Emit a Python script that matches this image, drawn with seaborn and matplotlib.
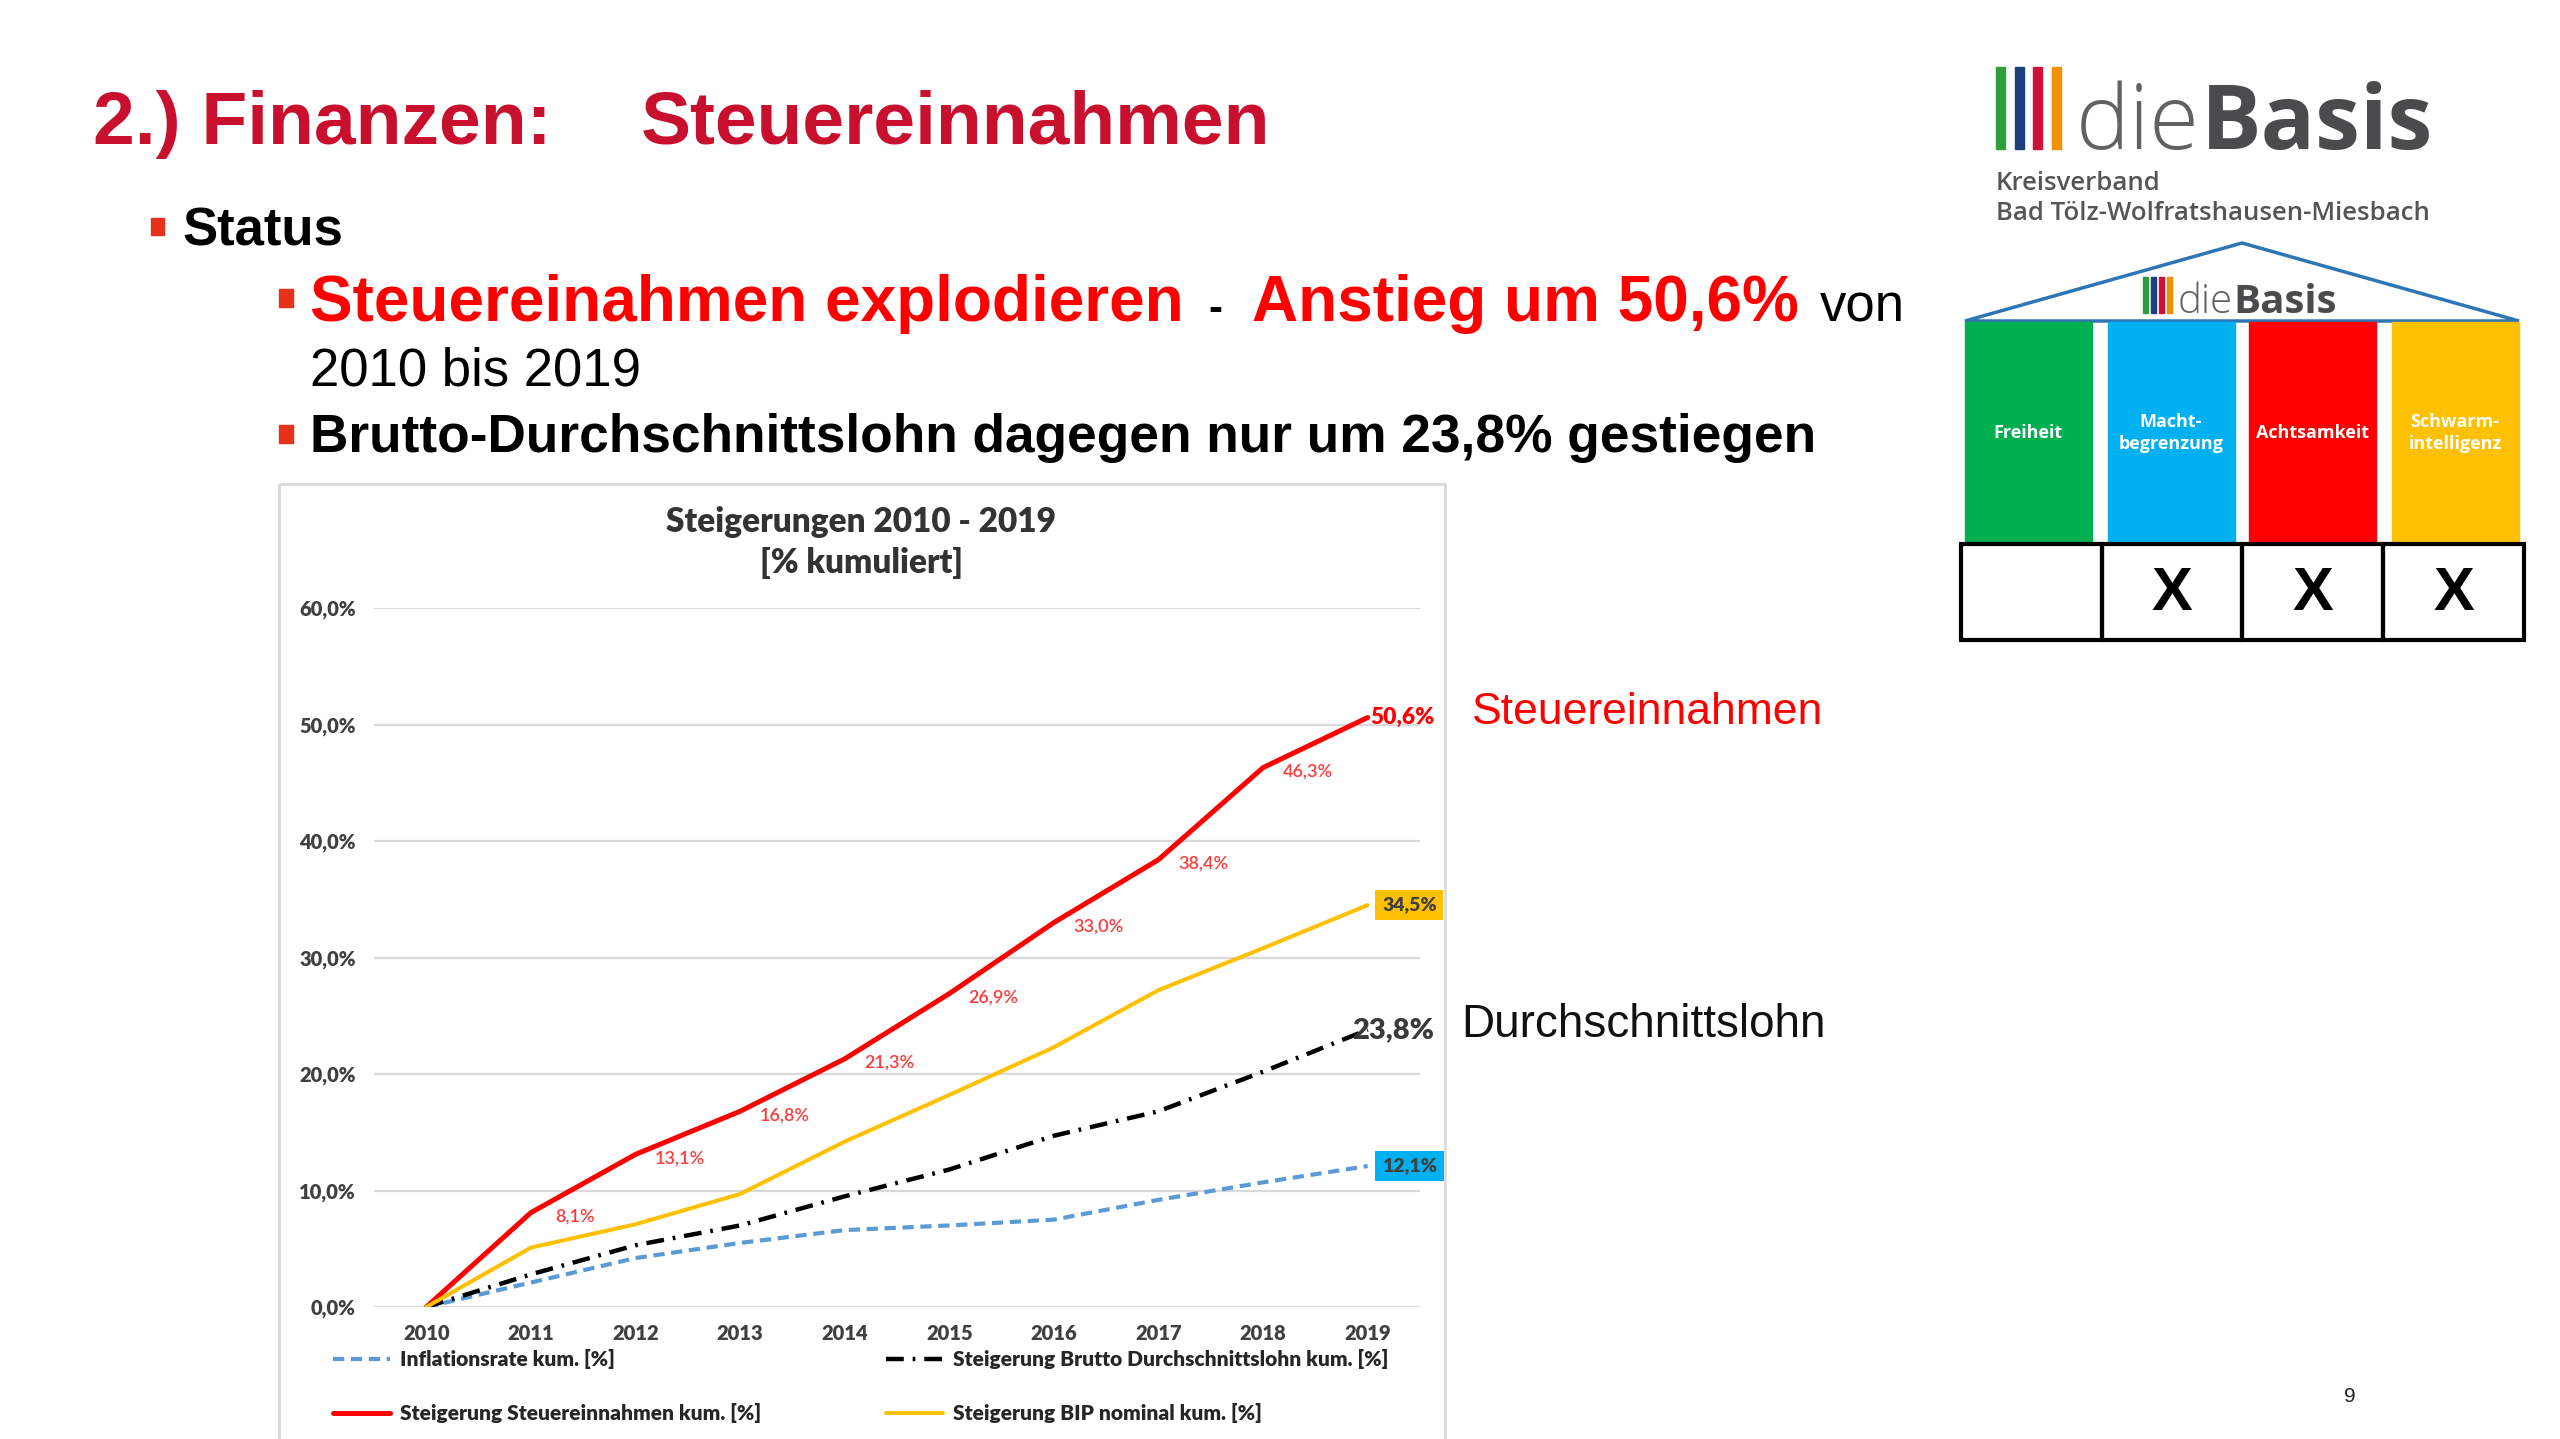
import numpy as np
import pandas as pd
import seaborn as sns
import matplotlib.pyplot as plt
from matplotlib.patches import Rectangle, Polygon

# Daten (kumulierte Steigerung in %)
years = [2010, 2011, 2012, 2013, 2014, 2015, 2016, 2017, 2018, 2019]
inflation = [0.0, 2.1, 4.2, 5.5, 6.6, 7.0, 7.5, 9.2, 10.7, 12.1]
steuer = [0.0, 8.1, 13.1, 16.8, 21.3, 26.9, 33.0, 38.4, 46.3, 50.6]
lohn = [0.0, 2.8, 5.3, 7.0, 9.5, 11.8, 14.7, 16.8, 20.2, 23.8]
bip = [0.0, 5.1, 7.1, 9.7, 14.2, 18.2, 22.3, 27.2, 30.8, 34.5]
legend_labels = ["Inflationsrate kum. [%]",
                 "Steigerung Steuereinnahmen kum. [%]",
                 "Steigerung Brutto Durchschnittslohn kum. [%]",
                 "Steigerung BIP nominal kum. [%]"]
y_ticks = [0, 10, 20, 30, 40, 50, 60]

pillars = ["Freiheit", "Macht-\nbegrenzung", "Achtsamkeit", "Schwarm-\nintelligenz"]
pillar_colors = ["#00B050", "#00B0F0", "#FF0000", "#FFC000"]
pillar_marks = ["", "X", "X", "X"]
logo_bars = ["#2E9E3C", "#1F3F7A", "#D0103A", "#F39200"]

def pct(v):
    return f"{v:.1f}%".replace(".", ",")

sns.set_theme(style="white")
plt.rcParams["font.family"] = ["Liberation Sans", "DejaVu Sans"]

W, H = 2560, 1439
fig = plt.figure(figsize=(W / 100, H / 100), dpi=100)
renderer = fig.canvas.get_renderer()

# Overlay in Pixelkoordinaten fuer die Folie
ov = fig.add_axes([0, 0, 1, 1])
ov.set_xlim(0, W)
ov.set_ylim(H, 0)
ov.axis("off")

red_title = "#C8102E"
ov.text(93, 144, "2.) Finanzen:", color=red_title, fontsize=54, fontweight="bold", va="baseline")
ov.text(641, 144, "Steuereinnahmen", color=red_title, fontsize=54, fontweight="bold", va="baseline")

bullet_red = "#E8311A"
ov.add_patch(Rectangle((151, 218), 13, 17, color=bullet_red))
ov.text(182, 246, "Status", fontsize=38, fontweight="bold", color="black", va="baseline")

ov.add_patch(Rectangle((279, 289), 14, 18, color=bullet_red))
ov.text(310, 321, "Steuereinahmen explodieren", fontsize=46, fontweight="bold", color="#FF0000", va="baseline")
ov.text(1208, 321, "-", fontsize=30, fontweight="bold", color="black", va="baseline")
ov.text(1252, 321, "Anstieg um 50,6%", fontsize=46, fontweight="bold", color="#FF0000", va="baseline")
ov.text(1820, 321, "von", fontsize=38, color="black", va="baseline")
ov.text(310, 385, "2010 bis 2019", fontsize=38, color="black", va="baseline")

ov.add_patch(Rectangle((279, 425), 14, 18, color=bullet_red))
ov.text(310, 452, "Brutto-Durchschnittslohn dagegen nur um 23,8% gestiegen",
        fontsize=38.3, fontweight="bold", color="black", va="baseline")

ov.text(1472, 713, "Steuereinnahmen", fontsize=32, color="#FF0000", va="center")
ov.text(1461, 1025, "Durchschnittslohn", fontsize=33, color="#111111", va="center")
ov.text(2350, 1397, "9", fontsize=15, color="#222222", ha="center", va="center")

# Rahmen des Diagramms
ov.add_patch(Rectangle((279, 484), 1166, 1000, fill=False, ec="#D9D9D9", lw=2))

# Logo
logo_font = ["Open Sans", "DejaVu Sans"]


def logo(x, y, size, bar_x, bar_step, bar_w, bar_top, bar_h):
    for i, c in enumerate(logo_bars):
        ov.add_patch(Rectangle((bar_x + i * bar_step, bar_top), bar_w, bar_h, color=c))
    t = ov.text(x, y, "die", fontsize=size, color="#606163", va="baseline", family=logo_font,
                fontweight="light")
    ext = t.get_window_extent(renderer)
    ov.text(ext.x1 + size * 0.02, y, "Basis", fontsize=size, fontweight="bold", color="#4B4B4D",
            va="baseline", family=logo_font)


logo(2076, 149, 65, 1996, 18.6, 9, 67, 82)
ov.text(1996, 190, "Kreisverband", fontsize=18.5, fontweight="semibold", color="#555555", va="baseline",
        family=logo_font)
ov.text(1996, 220, "Bad Tölz-Wolfratshausen-Miesbach", fontsize=18.5, fontweight="semibold", color="#555555",
        va="baseline", family=logo_font)

# Haus
ov.add_patch(Polygon([(1965, 321), (2242, 243), (2519, 321)], closed=True, fill=False, ec="#2E75B6", lw=2.5))
logo(2178, 313, 29, 2143, 8, 4.5, 277, 36)

col_x = [1965, 2108, 2249, 2392]
cell_x = [1961, 2102, 2242, 2383, 2524]
for i, (name, c) in enumerate(zip(pillars, pillar_colors)):
    ov.add_patch(Rectangle((col_x[i], 322), 127, 219, color=c))
    ov.text(col_x[i] + 63, 433, name, ha="center", va="center", color="white", fontsize=13,
            fontweight="bold", linespacing=1.3, family=logo_font)
    ov.add_patch(Rectangle((cell_x[i], 544), cell_x[i + 1] - cell_x[i], 96, fill=False, ec="black", lw=3))
    ov.text((cell_x[i] + cell_x[i + 1]) / 2, 595, pillar_marks[i], ha="center", va="center",
            fontsize=44, fontweight="bold", color="black")

# Diagramm
chart_font = ["Lato", "DejaVu Sans"]
ax = fig.add_axes([374 / W, 1 - 1307 / H, (1420 - 374) / W, (1307 - 608) / H])
ax.set_facecolor("white")
idx = np.arange(len(years))

series = [
    (inflation, "#5B9BD5", 3.0, (0, (2.7, 1.6))),
    (steuer, "#FF0000", 3.6, "-"),
    (lohn, "#000000", 3.2, (0, (4, 2, 0.6, 2))),
    (bip, "#FFC000", 2.9, "-"),
]
for (vals, col, lw, ls), lab in zip(series, legend_labels):
    df = pd.DataFrame({"x": idx, "y": vals})
    sns.lineplot(data=df, x="x", y="y", color=col, lw=lw, linestyle=ls, label=lab, ax=ax)

ax.set_xlim(-0.5, len(years) - 0.5)
ax.set_ylim(0, 60)
ax.set_yticks(y_ticks)
ax.set_yticklabels([pct(v) for v in y_ticks], fontweight="heavy", family=chart_font, fontsize=14.5,
                   color="#404040")
ax.set_xticks(idx)
ax.set_xticklabels([str(y) for y in years], fontweight="heavy", family=chart_font, fontsize=14.5,
                   color="#404040")
ax.set_xlabel("")
ax.set_ylabel("")
ax.grid(axis="y", color="#D9D9D9", lw=1.6)
ax.grid(axis="x", visible=False)
for s in ax.spines.values():
    s.set_visible(False)
ax.tick_params(axis="y", length=0, pad=13)
ax.tick_params(axis="x", length=0, pad=12)

# Datenbeschriftungen Steuereinnahmen
for i in range(1, len(years) - 1):
    ax.annotate(pct(steuer[i]), (idx[i], steuer[i]), xytext=(32, -3), textcoords="offset points",
                ha="center", va="center", fontsize=13, color="#FF3B3B", family=chart_font, fontweight="semibold")
ax.annotate(pct(steuer[-1]), (idx[-1], steuer[-1]), xytext=(25, 0), textcoords="offset points",
            ha="center", va="center", fontsize=16.5, fontweight="heavy", color="#FF0000", family=chart_font)
ax.annotate(pct(lohn[-1]), (idx[-1], lohn[-1]), xytext=(18, 0), textcoords="offset points",
            ha="center", va="center", fontsize=21, fontweight="heavy", color="#3A3A3A", family=chart_font)
ax.annotate(pct(bip[-1]), (idx[-1], bip[-1]), xytext=(30, 0), textcoords="offset points",
            ha="center", va="center", fontsize=14, fontweight="heavy", color="#404040", family=chart_font,
            bbox=dict(boxstyle="square,pad=0.35", fc="#FFC000", ec="none"))
ax.annotate(pct(inflation[-1]), (idx[-1], inflation[-1]), xytext=(30, 0), textcoords="offset points",
            ha="center", va="center", fontsize=14, fontweight="heavy", color="#404040", family=chart_font,
            bbox=dict(boxstyle="square,pad=0.35", fc="#00B0F0", ec="none"))

fig.text(861 / W, 1 - 522 / H, "Steigerungen 2010 - 2019", ha="center", va="center", fontsize=24,
         fontweight="heavy", color="#333333", family=chart_font)
fig.text(861 / W, 1 - 563 / H, "[% kumuliert]", ha="center", va="center", fontsize=24,
         fontweight="heavy", color="#333333", family=chart_font)

# Legende in zwei Spalten
handles, labels = ax.get_legend_handles_labels()
leg_kw = dict(loc="upper left", bbox_transform=fig.transFigure, frameon=False, borderpad=0, borderaxespad=0,
              handlelength=2.75, handletextpad=0.45, labelspacing=1.65,
              prop={"family": chart_font, "weight": "heavy", "size": 15})
leg1 = ax.legend(handles[:2], labels[:2], bbox_to_anchor=(333 / W, 1 - 1349 / H), **leg_kw)
ax.add_artist(leg1)
ax.legend(handles[2:], labels[2:], bbox_to_anchor=(886 / W, 1 - 1349 / H), **leg_kw)

fig.savefig("out.png", dpi=100, facecolor="white")
